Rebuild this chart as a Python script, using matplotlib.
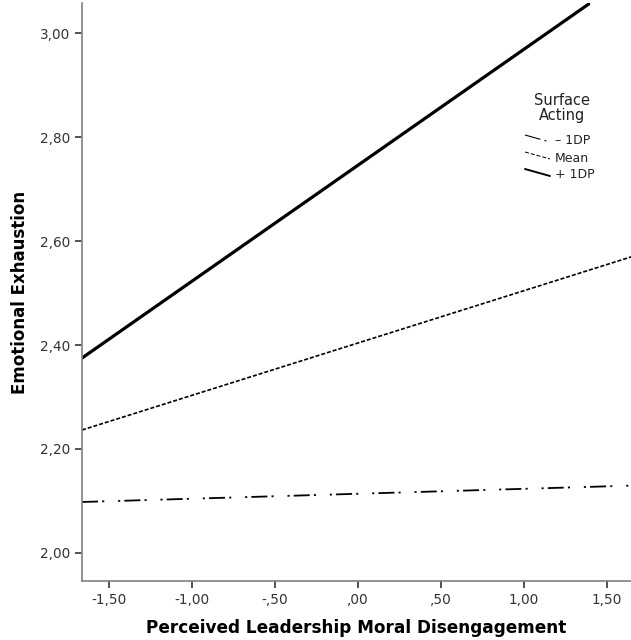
import matplotlib
matplotlib.use('Agg')
import matplotlib.pyplot as plt
from matplotlib.lines import Line2D

# simple slopes: start/end of each line (x, predicted emotional exhaustion)
groups = ['- 1DP', 'Mean', '+ 1DP']
legend_labels = ['\u2013 1DP', 'Mean', '+ 1DP']
x_start = [-1.663, -1.663, -1.663]
x_end = [1.70, 1.70, 1.39]
y_start = [2.098, 2.2365, 2.375]
y_end = [2.130, 2.575, 3.056]

x_ticks = [-1.5, -1.0, -0.5, 0.0, 0.5, 1.0, 1.5]
x_labels = ['-1,50', '-1,00', '-,50', ',00', ',50', '1,00', '1,50']
y_ticks = [2.0, 2.2, 2.4, 2.6, 2.8, 3.0]
y_labels = ['2,00', '2,20', '2,40', '2,60', '2,80', '3,00']

plt.rcParams['lines.scale_dashes'] = False
plt.rcParams['font.family'] = 'DejaVu Sans'

styles = {
    '- 1DP': dict(lw=1.3, dashes=(11.5, 3, 1.5, 10, 1.5, 3)),
    'Mean': dict(lw=1.2, dashes=(2.9, 1.4)),
    '+ 1DP': dict(lw=2.3, solid_capstyle='round'),
}


def run():
    fig = plt.figure(figsize=(6.31, 6.40), dpi=100)
    ax = fig.add_axes([0.13, 0.0922, 0.87, 0.9031])

    for g, x0, x1, y0, y1 in zip(groups, x_start, x_end, y_start, y_end):
        ax.plot([x0, x1], [y0, y1], color='black', **styles[g])

    ax.set_xlim(-1.663, 1.645)
    ax.set_ylim(1.946, 3.058)
    ax.set_xticks(x_ticks)
    ax.set_xticklabels(x_labels)
    ax.set_yticks(y_ticks)
    ax.set_yticklabels(y_labels)
    ax.tick_params(direction='out', length=5, width=1.2, labelsize=9.8,
                   color='#333333', labelcolor='#333333')

    for s in ['top', 'right']:
        ax.spines[s].set_visible(False)
    for s in ['left', 'bottom']:
        ax.spines[s].set_color('#808080')
        ax.spines[s].set_linewidth(1.2)

    ax.set_xlabel('Perceived Leadership Moral Disengagement', fontsize=12.2,
                  fontweight='bold')
    ax.set_ylabel('Emotional Exhaustion', fontsize=12, fontweight='bold')
    W, H = 631, 640
    ax.xaxis.set_label_coords(0.5, -(628 - 581) / 578, transform=ax.transAxes)
    ax.yaxis.set_label_coords(-(82 - 20) / 549, 0.5, transform=ax.transAxes)
    ax.xaxis.label.set_va('center')
    ax.yaxis.label.set_va('center')

    # legend drawn by hand, SPSS style
    fig.text(562 / W, 1 - 108 / H, 'Surface\nActing', ha='center', va='center',
             fontsize=10.5, linespacing=1.0, color='#222222')
    for i, (g, lab) in enumerate(zip(groups, legend_labels)):
        yy = 135 + 17 * i
        fig.add_artist(Line2D([525 / W, 550 / W], [1 - yy / H, 1 - (yy + 7) / H],
                              transform=fig.transFigure, color='black',
                              **{k: v for k, v in styles[g].items()
                                 if k != 'lw'}, lw=styles[g]['lw'] * 0.6))
        fig.text(555 / W, 1 - (yy + 6) / H, lab, ha='left', va='center',
                 fontsize=9, color='#222222')

    fig.savefig('out.png', dpi=100)


if __name__ == '__main__':
    run()
